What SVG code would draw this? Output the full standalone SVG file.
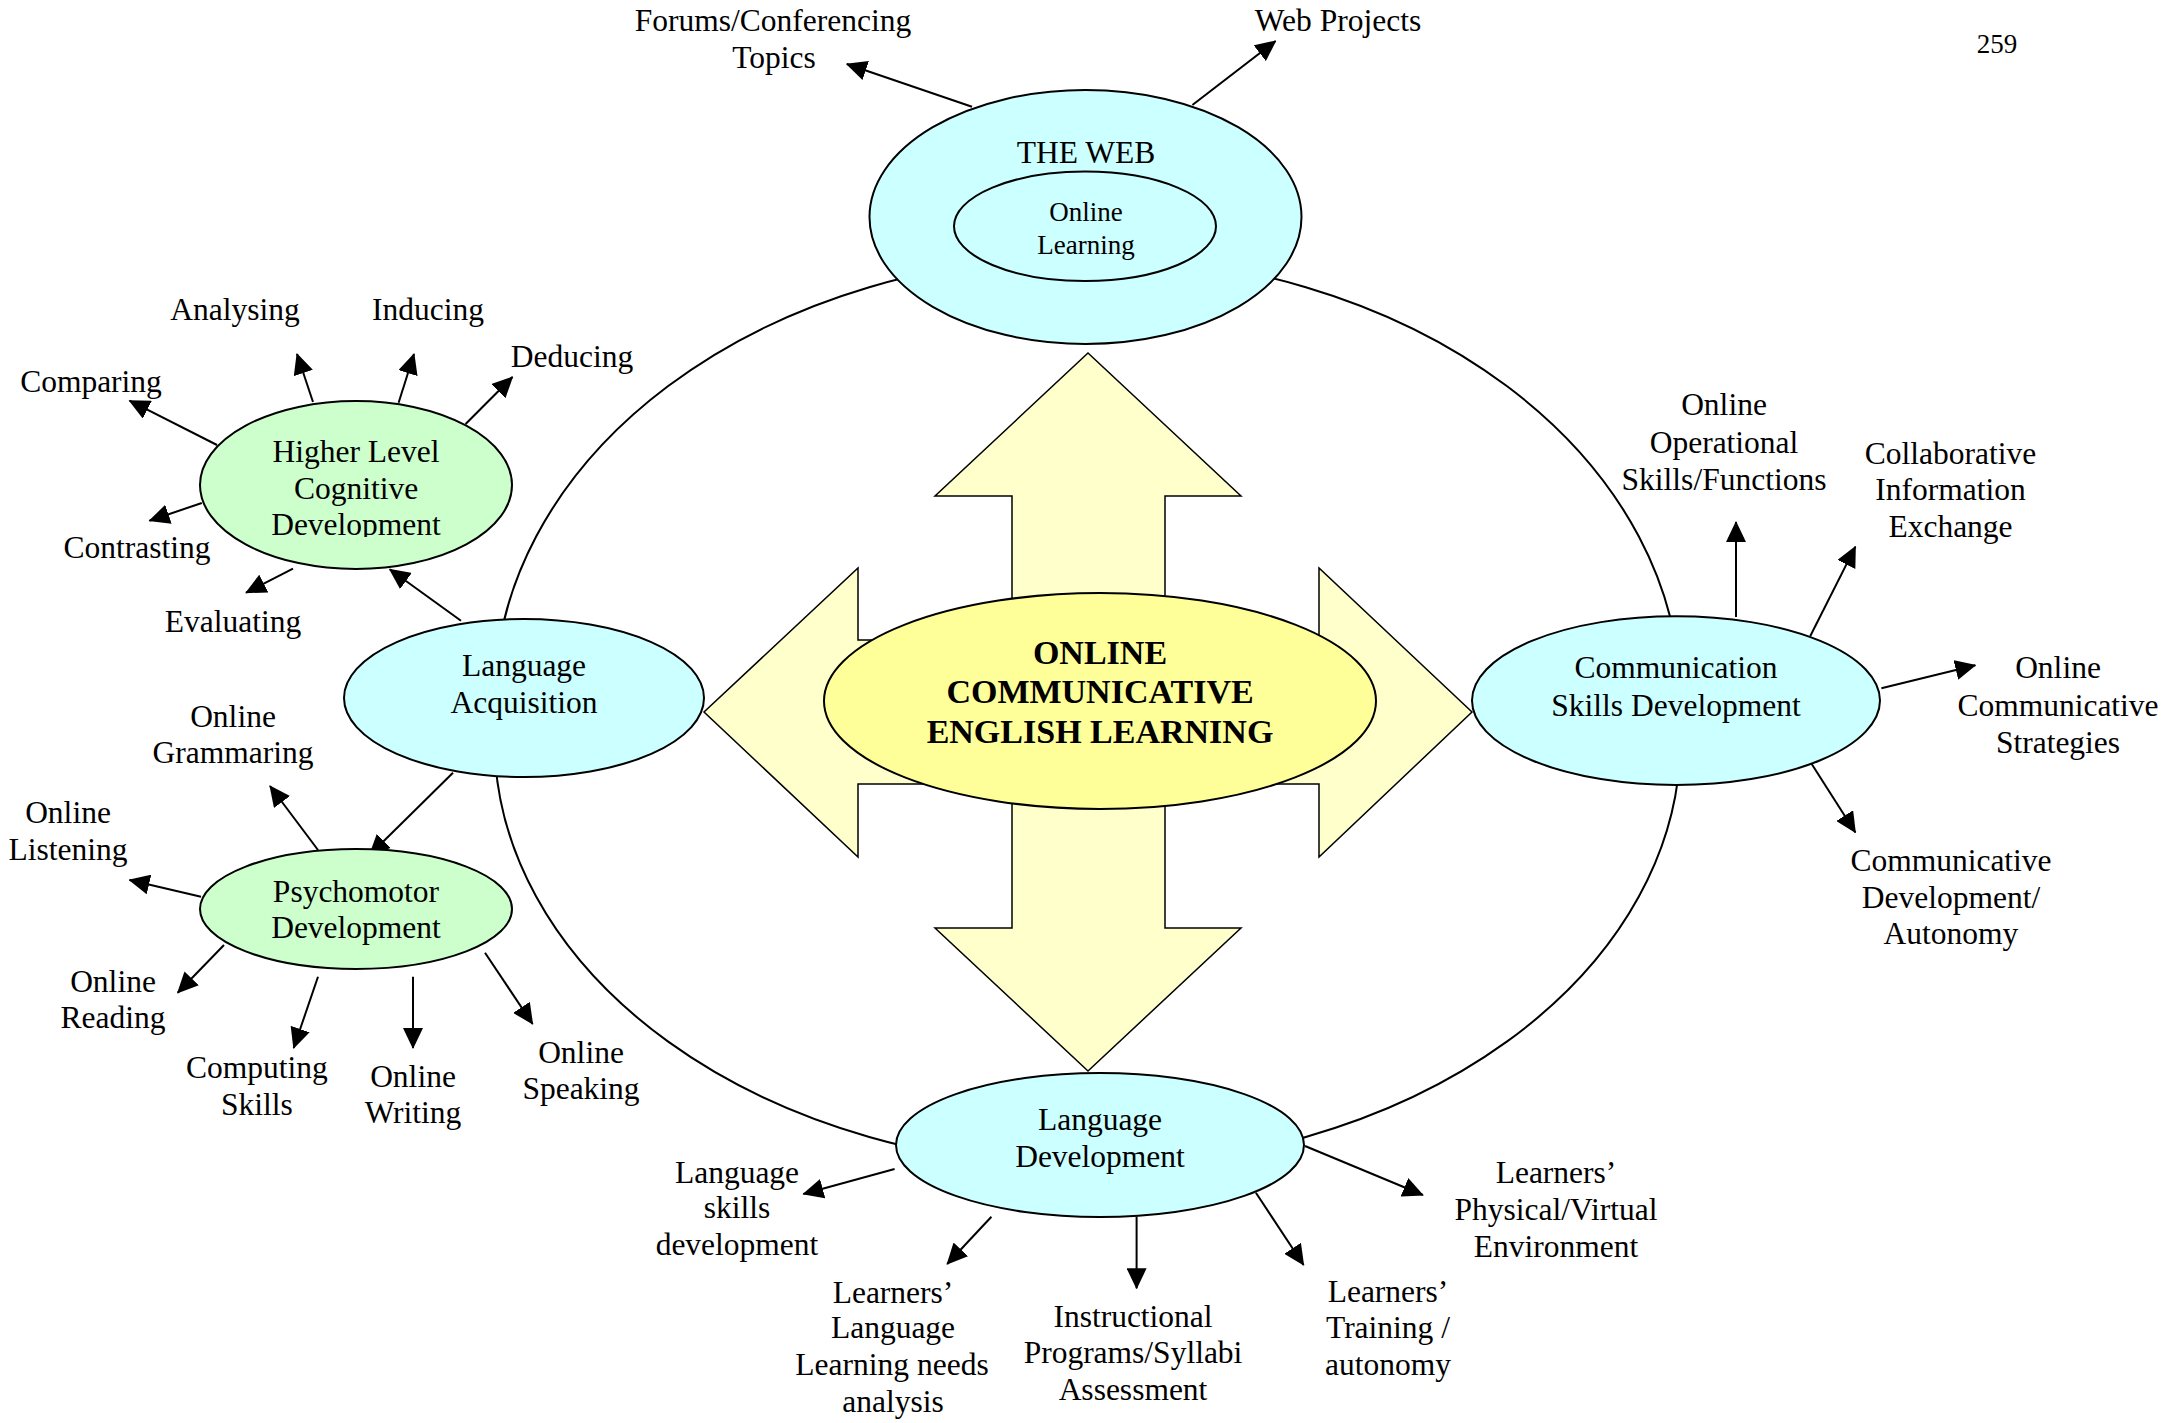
<svg xmlns="http://www.w3.org/2000/svg" width="2179" height="1423" viewBox="0 0 2179 1423">
<style>
text{font-family:"Liberation Serif","Times New Roman",serif;font-size:31.5px;fill:#000;text-anchor:middle}
.sm{font-size:27px}
.b{font-weight:bold;font-size:34px}
.ln{stroke:#000;stroke-width:2;fill:none;marker-end:url(#ah)}
.el{stroke:#000;stroke-width:2}
.cy{fill:#CCFFFF}
.gr{fill:#CCFFCC}
</style>
<defs>
<marker id="ah" viewBox="0 0 21 20" refX="20" refY="10" markerWidth="21" markerHeight="20" markerUnits="userSpaceOnUse" orient="auto">
<path d="M0,0 L21,10 L0,20 z" fill="#000"/>
</marker>
<clipPath id="hlcclip"><rect x="150" y="380" width="420" height="157"/></clipPath>
</defs>
<rect width="2179" height="1423" fill="#fff"/>
<text class="sm" x="1997" y="53">259</text>
<g id="ring">
<path d="M494.5,700 A593,444 0 0 1 1680.5,700" fill="none" stroke="#000" stroke-width="2"/>
<path d="M494.5,739 A593,428 0 0 0 1680.5,739" fill="none" stroke="#000" stroke-width="2"/>
</g>
<g id="connectors">
<line class="ln" x1="972" y1="106.7" x2="846.8" y2="64"/>
<line class="ln" x1="1192.4" y1="105" x2="1275.6" y2="41"/>
<line class="ln" x1="217" y1="445" x2="129.5" y2="400.7"/>
<line class="ln" x1="313" y1="402" x2="297" y2="354"/>
<line class="ln" x1="398.6" y1="402.7" x2="414" y2="354"/>
<line class="ln" x1="465.6" y1="424" x2="512.5" y2="377"/>
<line class="ln" x1="201.8" y1="503" x2="149.5" y2="520.7"/>
<line class="ln" x1="293" y1="568.7" x2="246" y2="592.7"/>
<line class="ln" x1="461" y1="620.7" x2="389.7" y2="569.3"/>
<line class="ln" x1="453" y1="772.7" x2="369.6" y2="855"/>
<line class="ln" x1="318" y1="850" x2="270" y2="786"/>
<line class="ln" x1="201" y1="896.7" x2="129.5" y2="880"/>
<line class="ln" x1="224" y1="945" x2="177.7" y2="992.7"/>
<line class="ln" x1="318" y1="976.7" x2="293.7" y2="1048"/>
<line class="ln" x1="413" y1="976.7" x2="413" y2="1048"/>
<line class="ln" x1="485" y1="952.7" x2="532.6" y2="1024"/>
<line class="ln" x1="1736" y1="617" x2="1736" y2="522"/>
<line class="ln" x1="1810.3" y1="636" x2="1855.4" y2="546.6"/>
<line class="ln" x1="1881.4" y1="688.2" x2="1975.3" y2="665.2"/>
<line class="ln" x1="1811.7" y1="764" x2="1855.4" y2="832.5"/>
<line class="ln" x1="894.6" y1="1169" x2="803.4" y2="1194"/>
<line class="ln" x1="991.4" y1="1216.7" x2="947.2" y2="1264"/>
<line class="ln" x1="1136.6" y1="1216.7" x2="1136.6" y2="1288.3"/>
<line class="ln" x1="1255.9" y1="1192.7" x2="1303.6" y2="1265"/>
<line class="ln" x1="1305" y1="1146" x2="1422.9" y2="1195"/>
</g>
<g id="cross">
<polygon points="1088,353 1241,496 1165,496 1165,640 1319,640 1319,568 1472,712 1319,857 1319,784 1165,784 1165,928 1241,928 1088,1071 935,928 1012,928 1012,784 858,784 858,857 704,712 858,568 858,640 1012,640 1012,496 935,496" fill="#FFFFCC" stroke="#000" stroke-width="1.5"/>
</g>
<g id="center">
<ellipse class="el" cx="1100" cy="701" rx="276" ry="108" fill="#FFFF99"/>
<text class="b" x="1100" y="664">ONLINE</text>
<text class="b" x="1100" y="703.4">COMMUNICATIVE</text>
<text class="b" x="1100" y="742.8">ENGLISH LEARNING</text>
</g>
<g id="web">
<ellipse class="el cy" cx="1085.5" cy="217" rx="216" ry="127"/>
<text x="1086" y="163">THE WEB</text>
<ellipse class="el cy" cx="1085" cy="226.3" rx="131" ry="54.7"/>
<text class="sm" x="1086" y="220.5">Online</text>
<text class="sm" x="1086" y="254">Learning</text>
</g>
<g id="web-labels">
<text x="773" y="30.7">Forums/Conferencing</text>
<text x="774" y="68">Topics</text>
<text x="1338" y="30.7">Web Projects</text>
</g>
<g id="hlc">
<ellipse class="el gr" cx="356" cy="485" rx="156" ry="84"/>
<text x="356" y="462">Higher Level</text>
<text x="356" y="498.5">Cognitive</text>
<text x="356" y="535" clip-path="url(#hlcclip)">Development</text>
</g>
<g id="hlc-labels">
<text x="235" y="320">Analysing</text>
<text x="428" y="320">Inducing</text>
<text x="572" y="367">Deducing</text>
<text x="91" y="392">Comparing</text>
<text x="137" y="558">Contrasting</text>
<text x="233" y="632">Evaluating</text>
</g>
<g id="langacq">
<ellipse class="el cy" cx="524" cy="698" rx="180" ry="79"/>
<text x="524" y="676">Language</text>
<text x="524" y="713">Acquisition</text>
</g>
<g id="psycho">
<ellipse class="el gr" cx="356" cy="909" rx="156" ry="60"/>
<text x="356" y="901.7">Psychomotor</text>
<text x="356" y="938">Development</text>
</g>
<g id="psycho-labels">
<text x="233" y="726.7">Online</text>
<text x="233" y="763">Grammaring</text>
<text x="68" y="823">Online</text>
<text x="68" y="860">Listening</text>
<text x="113" y="991.7">Online</text>
<text x="113" y="1028">Reading</text>
<text x="257" y="1078">Computing</text>
<text x="257" y="1115">Skills</text>
<text x="413" y="1086.7">Online</text>
<text x="413" y="1123">Writing</text>
<text x="581" y="1062.7">Online</text>
<text x="581" y="1099">Speaking</text>
</g>
<g id="comm">
<ellipse class="el cy" cx="1676" cy="700.6" rx="204" ry="84.4"/>
<text x="1676" y="678.3">Communication</text>
<text x="1676" y="716">Skills Development</text>
</g>
<g id="comm-labels">
<text x="1724" y="415.4">Online</text>
<text x="1724" y="452.9">Operational</text>
<text x="1724" y="489.7">Skills/Functions</text>
<text x="1950.5" y="463.6">Collaborative</text>
<text x="1950.5" y="500.4">Information</text>
<text x="1950.5" y="537.1">Exchange</text>
<text x="2058" y="678.3">Online</text>
<text x="2058" y="715.9">Communicative</text>
<text x="2058" y="753.4">Strategies</text>
<text x="1951" y="870.9">Communicative</text>
<text x="1951" y="907.6">Development/</text>
<text x="1951" y="944.4">Autonomy</text>
</g>
<g id="langdev">
<ellipse class="el cy" cx="1100" cy="1145" rx="204" ry="72"/>
<text x="1100" y="1130">Language</text>
<text x="1100" y="1166.7">Development</text>
</g>
<g id="langdev-labels">
<text x="737" y="1183.3">Language</text>
<text x="737" y="1218.3">skills</text>
<text x="737" y="1255">development</text>
<text x="893" y="1303.3">Learners’</text>
<text x="893" y="1338.3">Language</text>
<text x="892" y="1375">Learning needs</text>
<text x="893" y="1411.7">analysis</text>
<text x="1133" y="1326.7">Instructional</text>
<text x="1133" y="1363.3">Programs/Syllabi</text>
<text x="1133" y="1400">Assessment</text>
<text x="1388" y="1302.3">Learners’</text>
<text x="1388" y="1338.3">Training /</text>
<text x="1388" y="1375">autonomy</text>
<text x="1556" y="1183.3">Learners’</text>
<text x="1556" y="1220">Physical/Virtual</text>
<text x="1556" y="1256.7">Environment</text>
</g>
</svg>
